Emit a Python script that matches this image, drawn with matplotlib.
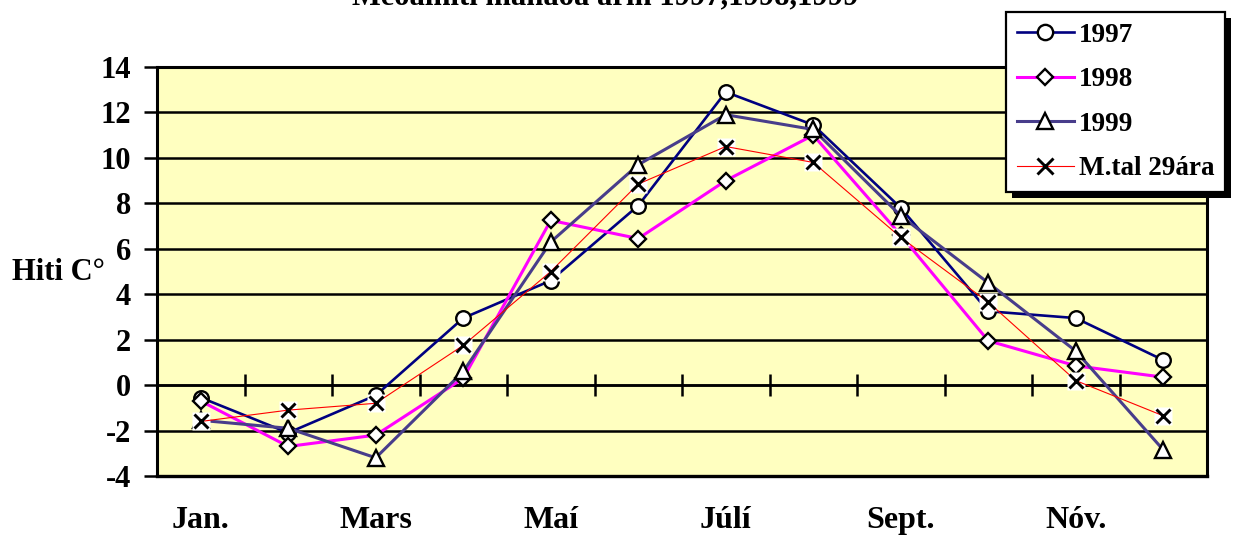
import matplotlib
matplotlib.use("Agg")
import matplotlib.pyplot as plt
from matplotlib.patches import Rectangle
import numpy as np

months = ["Jan.", "Feb.", "Mars", "Apríl", "Maí", "Júní", "Júlí", "Ágúst", "Sept.", "Okt.", "Nóv.", "Des."]
shown_labels = ["Jan.", "Mars", "Maí", "Júlí", "Sept.", "Nóv."]
t1997 = [-0.55, -2.1, -0.45, 2.95, 4.6, 7.9, 12.9, 11.45, 7.8, 3.25, 2.95, 1.1]
t1998 = [-0.7, -2.7, -2.2, 0.3, 7.25, 6.45, 9.0, 11.0, 6.6, 1.95, 0.85, 0.35]
t1999 = [-1.55, -1.9, -3.2, 0.6, 6.3, 9.7, 11.9, 11.25, 7.45, 4.5, 1.5, -2.85]
tmean = [-1.6, -1.1, -0.8, 1.75, 5.0, 8.85, 10.5, 9.8, 6.5, 3.65, 0.2, -1.35]
series_names = ["1997", "1998", "1999", "M.tal 29ára"]
title = "Meðalhiti mánaða árin 1997,1998,1999"
ylabel = "Hiti C°"
yticks = [-4, -2, 0, 2, 4, 6, 8, 10, 12, 14]

plt.rcParams['font.family'] = ['Liberation Serif', 'DejaVu Serif']
plt.rcParams['font.weight'] = 'bold'
FS = 19.5

W, H = 1236, 542
fig = plt.figure(figsize=(W / 100, H / 100), dpi=100)
fig.patch.set_facecolor('white')
ax = fig.add_axes([157 / W, (H - 476) / H, 1050 / W, 409 / H])
ax.set_facecolor('#FFFFC0')

x = np.arange(len(months))

ax.plot(x, t1997, color='#000080', lw=1.9, marker='o', ms=10.5, mfc='white', mec='black', mew=1.7, label=series_names[0], zorder=5)
ax.plot(x, t1998, color='#FF00FF', lw=2.2, marker='D', ms=8, mfc='white', mec='black', mew=1.7, label=series_names[1], zorder=5)
ax.plot(x, t1999, color='#483D8B', lw=2.2, marker='^', ms=11, mfc='white', mec='black', mew=1.7, label=series_names[2], zorder=5)
# white box behind x markers
ax.plot(x, tmean, color='none', lw=0, marker='s', ms=12.5, mfc='white', mec='none', zorder=6)
ax.plot(x, tmean, color='#FF0000', lw=0.8, marker='x', ms=10.5, mec='black', mew=2.1, label=series_names[3], zorder=7)

ax.set_xlim(-0.5, len(months) - 0.5)
ax.set_ylim(min(yticks), max(yticks))
ax.set_yticks(yticks)
ax.set_yticklabels([str(v) for v in yticks], fontsize=22, fontweight='bold')
ax.tick_params(axis='y', direction='out', length=9.5, width=1.8, pad=9)
for v in yticks:
    ax.axhline(v, color='black', lw=1.8, zorder=1)

ax.spines['bottom'].set_position(('data', 0))
ax.spines['bottom'].set_linewidth(1.8)
ax.set_xticks(np.arange(len(months) - 1) + 0.5)
ax.set_xticklabels([])
ax.tick_params(axis='x', direction='inout', length=16, width=1.8)
for s in ['left', 'right', 'top']:
    ax.spines[s].set_linewidth(2.2)
# bottom frame line
ax.axhline(min(yticks), color='black', lw=2.4, zorder=2, clip_on=False)

for lab in shown_labels:
    i = months.index(lab)
    ax.text(i, -0.11, lab, transform=ax.get_xaxis_transform(), ha='center', va='center',
            fontsize=23, fontweight='bold')

fig.text(12 / W, 1 - 272 / H, ylabel, ha='left', va='center', fontsize=22, fontweight='bold')
fig.text(605 / W, 1 - 4 / H, title, ha='center', va='baseline', fontsize=22, fontweight='bold')

leg = fig.legend(loc='upper left', bbox_to_anchor=(1006 / W, 1 - 12 / H), bbox_transform=fig.transFigure,
                 borderaxespad=0, fancybox=False, framealpha=1, edgecolor='black',
                 prop={'size': FS, 'weight': 'bold'}, handlelength=2.1, handletextpad=0.2,
                 labelspacing=0.72, borderpad=0.4, markerscale=1.05)
leg.get_frame().set_linewidth(1.6)
leg.set_zorder(20)

fig.canvas.draw()
bb = leg.get_window_extent()
shadow = Rectangle((bb.x0 + 6, bb.y0 - 6), bb.width, bb.height, transform=None,
                   facecolor='black', edgecolor='none', zorder=19)
fig.add_artist(shadow)

fig.savefig('out.png', dpi=100, facecolor='white')
